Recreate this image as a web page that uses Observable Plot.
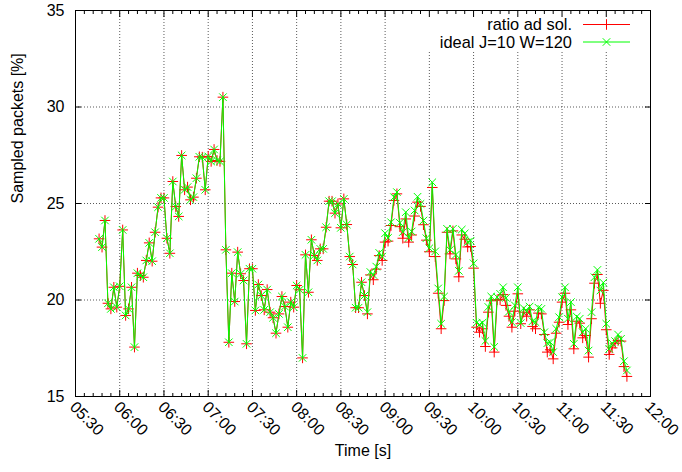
<!DOCTYPE html>
<html>
<head>
<meta charset="utf-8">
<script src="https://cdn.jsdelivr.net/npm/d3@7"></script>
<script src="https://cdn.jsdelivr.net/npm/@observablehq/plot@0.6"></script>
<style>
  html, body { margin: 0; padding: 0; background: #fff; }
</style>
</head>
<body>
<div id="chart"></div>
<script>
// Sample times (HH:MM), one sample every two minutes
const times = [
  "05:46","05:48","05:50","05:52","05:54","05:56","05:58",
  "06:00","06:02","06:04","06:06","06:08","06:10","06:12","06:14","06:16","06:18","06:20","06:22","06:24","06:26","06:28",
  "06:30","06:32","06:34","06:36","06:38","06:40","06:42","06:44","06:46","06:48","06:50","06:52","06:54","06:56","06:58",
  "07:00","07:02","07:04","07:06","07:08","07:10","07:12","07:14","07:16","07:18","07:20","07:22","07:24","07:26","07:28",
  "07:30","07:32","07:34","07:36","07:38","07:40","07:42","07:44","07:46","07:48","07:50","07:52","07:54","07:56","07:58",
  "08:00","08:02","08:04","08:06","08:08","08:10","08:12","08:14","08:16","08:18","08:20","08:22","08:24","08:26","08:28",
  "08:30","08:32","08:34","08:36","08:38","08:40","08:42","08:44","08:46","08:48","08:50","08:52","08:54","08:56","08:58",
  "09:00","09:02","09:04","09:06","09:08","09:10","09:12","09:14","09:16","09:18","09:20","09:22","09:24","09:26","09:28",
  "09:30","09:32","09:34","09:36","09:38","09:40","09:42","09:44","09:46","09:48","09:50","09:52","09:54","09:56","09:58",
  "10:00","10:02","10:04","10:06","10:08","10:10","10:12","10:14","10:16","10:18","10:20","10:22","10:24","10:26","10:28",
  "10:30","10:32","10:34","10:36","10:38","10:40","10:42","10:44","10:46","10:48","10:50","10:52","10:54","10:56","10:58",
  "11:00","11:02","11:04","11:06","11:08","11:10","11:12","11:14","11:16","11:18","11:20","11:22","11:24","11:26","11:28",
  "11:30","11:32","11:34","11:36","11:38","11:40","11:42","11:44"
];

// Sampled packets [%] — adaptive-ratio solution
const ratioAdSol = [
  23.17,22.74,24.12,19.83,19.54,20.66,19.63,
  20.71,23.63,19.2,19.54,20.66,17.56,21.39,21.27,21.18,22.05,22.96,22.01,23.51,24.81,25.29,
  25.29,23.2,22.42,26.14,24.84,24.33,27.49,25.71,25.85,25.19,25.33,26.31,27.42,27.4,25.71,
  27.44,27.18,27.8,27.23,27.18,30.51,22.6,17.81,21.39,19.92,22.48,21.36,21.01,17.73,21.62,
  21.62,19.46,20.8,20.23,19.49,20.54,19.37,19.08,18.28,19.28,20.18,19.66,18.59,19.89,19.63,
  20.75,20.53,17.0,22.34,20.4,23.12,22.31,22.05,22.65,22.65,23.77,25.12,25.12,24.5,24.98,
  23.74,25.24,23.91,22.25,21.84,19.6,19.6,20.92,20.23,19.28,21.3,21.05,21.6,22.3,22.05,
  23.0,23.05,23.86,25.16,25.5,23.8,23.2,24.2,23.0,23.37,24.35,25.07,24.85,23.9,23.1,
  22.5,25.83,22.25,20.35,18.51,19.97,23.51,22.39,23.58,22.13,21.2,23.37,23.15,22.75,22.77,
  21.65,18.59,18.33,18.51,17.59,19.37,19.96,17.3,20.01,20.01,20.28,19.72,19.16,18.59,19.42,
  20.32,18.77,19.37,19.16,19.49,18.63,18.51,19.32,19.28,18.21,17.3,17.42,16.95,18.28,18.85,
  19.89,20.35,18.73,19.49,17.47,18.9,18.8,18.04,18.16,17.04,19.03,20.87,21.32,19.83,20.5,
  18.46,17.18,17.52,17.76,17.9,17.87,16.55,16.04
];

// Sampled packets [%] — ideal, J=10, W=120
const idealJ10W120 = [
  23.17,22.74,24.12,19.83,19.54,20.66,19.63,
  20.71,23.63,19.2,19.54,20.66,17.56,21.39,21.27,21.18,22.05,22.96,22.01,23.51,24.81,25.29,
  25.29,23.2,22.42,26.14,24.84,24.33,27.49,25.71,25.85,25.19,25.33,26.31,27.42,27.4,25.71,
  27.44,27.18,27.8,27.23,27.18,30.51,22.6,17.81,21.39,19.92,22.48,21.36,21.01,17.73,21.62,
  21.62,19.46,20.8,20.23,19.49,20.54,19.37,19.08,18.28,19.28,20.18,19.66,18.59,19.89,19.63,
  20.75,20.53,17.0,22.34,20.4,23.12,22.31,22.05,22.65,22.65,23.77,25.12,25.12,24.5,24.98,
  23.74,25.24,23.91,22.25,21.84,19.6,19.6,20.92,20.23,19.37,21.45,21.3,21.73,22.44,22.25,
  23.46,23.22,24.03,25.33,25.59,24.0,23.52,24.55,23.22,23.55,24.64,25.35,24.98,24.12,23.2,
  22.68,26.1,22.52,20.6,18.77,20.18,23.69,22.6,23.69,22.35,21.51,23.65,23.45,23.0,23.07,
  21.9,18.82,18.73,18.82,17.88,19.64,20.18,17.57,20.15,20.32,20.66,20.11,19.4,18.85,19.72,
  20.66,18.8,19.58,19.4,19.66,18.9,18.85,19.6,19.54,18.33,17.76,17.81,17.3,18.51,19.11,
  20.15,20.66,19.03,19.89,17.73,19.14,19.03,18.33,18.51,17.38,19.37,21.18,21.56,20.49,20.9,
  18.77,17.47,17.76,17.87,18.21,17.99,16.83,16.35
];

const xTickLabels = ["05:30","06:00","06:30","07:00","07:30","08:00","08:30","09:00","09:30","10:00","10:30","11:00","11:30","12:00"];
const yTicks = [15, 20, 25, 30, 35];
const seriesNames = ["ratio ad sol.", "ideal J=10 W=120"];
const seriesColors = ["#ff0000", "#00ff00"];
const seriesSymbols = ["plus", "times"];
const xLabel = "Time [s]";
const yLabel = "Sampled packets [%]";

const parseTime = d3.utcParse("%H:%M");
const fmtTime = d3.utcFormat("%H:%M");
const xTicks = xTickLabels.map(parseTime);
const xDomain = [xTicks[0], xTicks[xTicks.length - 1]];
const majorSet = new Set(xTicks.map(Number));
const xMinor = d3.utcMinute.every(6).range(xDomain[0], xDomain[1]).filter(d => !majorSet.has(+d));

const rows = times.map((t, i) => ({time: parseTime(t), ratio: ratioAdSol[i], ideal: idealJ10W120[i]}));

const font = "'Liberation Sans', Arial, Helvetica, sans-serif";
const symbolOf = {plus: d3.symbolPlus, times: d3.symbolTimes};

// key in the upper right corner, with the grid blanked out behind it
function key(index, scales, values, dim) {
  const right = dim.width - dim.marginRight;
  const top = dim.marginTop;
  const g = d3.create("svg:g").attr("font-family", font).attr("font-size", 16.4);
  g.append("rect")
    .attr("x", right - 256).attr("y", top + 1)
    .attr("width", 255).attr("height", 41)
    .attr("fill", "white");
  seriesNames.forEach((name, i) => {
    const y = top + 14.5 + i * 17.5;
    g.append("text")
      .attr("x", right - 78).attr("y", y)
      .attr("dy", "0.35em")
      .attr("text-anchor", "end")
      .attr("fill", "black")
      .text(name);
    g.append("line")
      .attr("x1", right - 67).attr("x2", right - 20)
      .attr("y1", y).attr("y2", y)
      .attr("stroke", seriesColors[i]).attr("stroke-width", 1);
    g.append("path")
      .attr("transform", `translate(${right - 43.5},${y})`)
      .attr("d", d3.symbol(symbolOf[seriesSymbols[i]], Math.PI * 3.5 * 3.5)())
      .attr("fill", "none")
      .attr("stroke", seriesColors[i]).attr("stroke-width", 1);
  });
  return g.node();
}

const chart = Plot.plot({
  width: 682,
  height: 472,
  marginLeft: 75,
  marginRight: 32,
  marginTop: 10,
  marginBottom: 76,
  style: {fontFamily: font, fontSize: "16px", background: "white", color: "black", overflow: "visible"},
  x: {type: "utc", domain: xDomain},
  y: {domain: [yTicks[0], yTicks[yTicks.length - 1]]},
  marks: [
    // dotted grid
    Plot.gridX(xTicks.slice(1, -1), {stroke: "black", strokeOpacity: 0.65, strokeDasharray: "1,2"}),
    Plot.gridY(yTicks.slice(1, -1), {stroke: "black", strokeOpacity: 0.65, strokeDasharray: "1,2"}),
    key,
    // inward ticks on all four sides
    Plot.axisX(xTicks, {anchor: "bottom", tickSize: -6, text: null}),
    Plot.axisX(xTicks, {anchor: "top", tickSize: -6, text: null}),
    Plot.axisX(xMinor, {anchor: "bottom", tickSize: -3, text: null}),
    Plot.axisX(xMinor, {anchor: "top", tickSize: -3, text: null}),
    Plot.axisY(yTicks, {anchor: "left", tickSize: -6, text: null}),
    Plot.axisY(yTicks, {anchor: "right", tickSize: -6, text: null}),
    // tick labels
    Plot.axisX(xTicks, {anchor: "bottom", tickSize: 0, tickPadding: 8, dx: -3, tickRotate: 45, tickFormat: fmtTime, label: null}),
    Plot.axisY(yTicks, {anchor: "left", tickSize: 0, tickPadding: 11, label: null}),
    // axis titles
    Plot.text([xLabel], {frameAnchor: "bottom", dy: 59, fontSize: 16}),
    Plot.text([yLabel], {frameAnchor: "left", dx: -58, rotate: -90, fontSize: 16}),
    Plot.frame({stroke: "black", strokeWidth: 1}),
    // series: ratio ad sol. (red +), then ideal (green x) on top
    Plot.line(rows, {x: "time", y: "ratio", stroke: seriesColors[0], strokeWidth: 1}),
    Plot.dot(rows, {x: "time", y: "ratio", symbol: seriesSymbols[0], r: 3.5, stroke: seriesColors[0], strokeWidth: 1}),
    Plot.line(rows, {x: "time", y: "ideal", stroke: seriesColors[1], strokeWidth: 1}),
    Plot.dot(rows, {x: "time", y: "ideal", symbol: seriesSymbols[1], r: 3.5, stroke: seriesColors[1], strokeWidth: 1})
  ]
});

document.getElementById("chart").appendChild(chart);
</script>
</body>
</html>
